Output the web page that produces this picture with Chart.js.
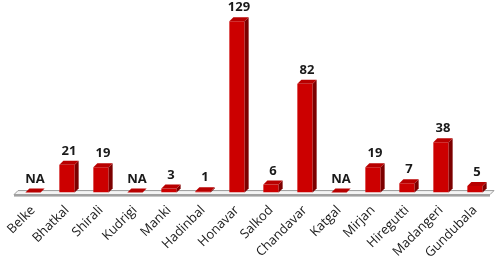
<!DOCTYPE html>
<html>
<head>
<meta charset="utf-8">
<script src="https://cdn.jsdelivr.net/npm/chart.js@4"></script>
<style>
  html, body { margin: 0; padding: 0; background: #fff; }
  #wrap { width: 500px; height: 263px; }
</style>
</head>
<body>
<div id="wrap"><canvas id="chart"></canvas></div>
<script>
// Villages and counts (NA = no data)
const categories = ['Belke', 'Bhatkal', 'Shirali', 'Kudrigi', 'Manki', 'Hadinbal', 'Honavar',
    'Salkod', 'Chandavar', 'Katgal', 'Mirjan', 'Hiregutti', 'Madangeri', 'Gundubala'];
const values = [null, 21, 19, null, 3, 1, 129, 6, 82, null, 19, 7, 38, 5];

const DEPTH = 4;

// floor slab + fake 3D faces on each bar
const bars3d = {
    id: 'bars3d',
    beforeDatasetsDraw(chart) {
        const { ctx, chartArea } = chart;
        const base = chart.scales.y.getPixelForValue(0);
        const l = chartArea.left - 2, r = chartArea.right - 2;
        ctx.save();
        ctx.fillStyle = '#f4f4f4';
        ctx.strokeStyle = '#9a9a9a';
        ctx.lineWidth = 1;
        ctx.beginPath();
        ctx.moveTo(l, base + 2);
        ctx.lineTo(l + DEPTH, base - 2);
        ctx.lineTo(r + DEPTH, base - 2);
        ctx.lineTo(r, base + 2);
        ctx.closePath();
        ctx.fill();
        ctx.stroke();
        ctx.fillStyle = '#a0a0a0';
        ctx.fillRect(l, base + 2, r - l, 2);
        ctx.restore();
    },
    afterDatasetsDraw(chart) {
        const { ctx } = chart;
        const meta = chart.getDatasetMeta(0);
        ctx.save();
        meta.data.forEach((bar, i) => {
            const { x, y, base, width } = bar.getProps(['x', 'y', 'base', 'width'], true);
            const xl = x - width / 2, xr = x + width / 2;
            // side face
            ctx.fillStyle = '#7d0000';
            ctx.beginPath();
            ctx.moveTo(xr, y);
            ctx.lineTo(xr + DEPTH, y - DEPTH);
            ctx.lineTo(xr + DEPTH, base - DEPTH);
            ctx.lineTo(xr, base);
            ctx.closePath();
            ctx.fill();
            // top face
            ctx.fillStyle = '#b80000';
            ctx.beginPath();
            ctx.moveTo(xl, y);
            ctx.lineTo(xl + DEPTH, y - DEPTH);
            ctx.lineTo(xr + DEPTH, y - DEPTH);
            ctx.lineTo(xr, y);
            ctx.closePath();
            ctx.fill();
            // value label
            const v = values[i];
            ctx.fillStyle = '#1a1a1a';
            ctx.font = 'bold 13px "Open Sans", sans-serif';
            ctx.textAlign = 'center';
            ctx.textBaseline = 'alphabetic';
            ctx.fillText(v === null ? 'NA' : String(v), x + 2, y - DEPTH - 6);
        });
        ctx.restore();
    }
};

new Chart(document.getElementById('chart'), {
    type: 'bar',
    data: {
        labels: categories,
        datasets: [{
            data: values.map(v => v === null ? 0 : v),
            backgroundColor: '#cc0000',
            borderWidth: 0,
            barPercentage: 0.9,
            categoryPercentage: 0.5
        }]
    },
    options: {
        responsive: true,
        maintainAspectRatio: false,
        animation: false,
        layout: { padding: { left: 16, right: 8, top: 20, bottom: 0 } },
        plugins: { legend: { display: false }, tooltip: { enabled: false } },
        scales: {
            x: {
                grid: { display: false },
                border: { display: false },
                ticks: {
                    color: '#1a1a1a',
                    font: { family: '"Open Sans", sans-serif', size: 13 },
                    minRotation: 45,
                    maxRotation: 45,
                    padding: 2
                }
            },
            y: {
                display: false,
                min: 0,
                max: 130
            }
        }
    },
    plugins: [bars3d]
});
</script>
</body>
</html>
